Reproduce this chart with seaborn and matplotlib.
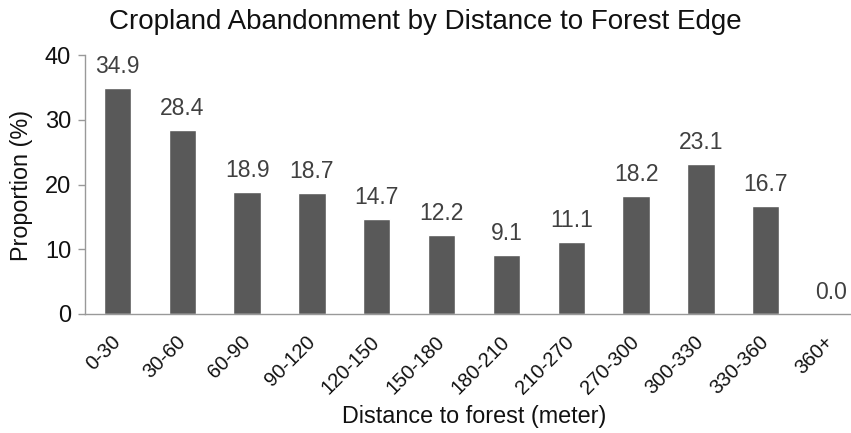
import matplotlib
matplotlib.use("Agg")
import matplotlib.pyplot as plt
import seaborn as sns
import pandas as pd

categories = ["0-30", "30-60", "60-90", "90-120", "120-150", "150-180",
              "180-210", "210-270", "270-300", "300-330", "330-360", "360+"]
values = [34.9, 28.4, 18.9, 18.7, 14.7, 12.2, 9.1, 11.1, 18.2, 23.1, 16.7, 0.0]

sns.set_theme(style="white")
plt.rcParams["font.family"] = ["Liberation Sans", "DejaVu Sans"]

df = pd.DataFrame({"dist": categories, "prop": values})

fig = plt.figure(figsize=(8.51, 4.33), dpi=100)
ax = fig.add_axes([85/851, 1 - 314/433, 778/851, (314 - 55)/433])

sns.barplot(data=df, x="dist", y="prop", color="#595959", width=0.42,
            saturation=1, ax=ax)

for i, v in enumerate(values):
    ax.annotate(f"{v:.1f}", xy=(i, v), xytext=(0, 15.5), textcoords="offset points",
                ha="center", va="center", fontsize=16.5, color="#404040")

ax.set_ylim(0, 40)
ax.set_yticks([0, 10, 20, 30, 40])
ax.set_xlim(-0.5, 11.5)
ax.tick_params(axis="y", labelsize=17, length=5, width=1, color="#999999",
               direction="out", left=True, pad=5, labelcolor="#111111")
ax.tick_params(axis="x", labelsize=14.5, length=0, pad=18, labelcolor="#111111")
plt.setp(ax.get_xticklabels(), rotation=45, ha="right", va="center",
         rotation_mode="anchor")

for s in ["top", "right"]:
    ax.spines[s].set_visible(False)
for s in ["left", "bottom"]:
    ax.spines[s].set_color("#999999")
    ax.spines[s].set_linewidth(1)

ax.set_xlabel("")
ax.set_ylabel("")
fig.text(474/851, 1 - 417/433, "Distance to forest (meter)", ha="center",
         va="center", fontsize=16.8, color="#111111")
fig.text(22/851, 1 - 185/433, "Proportion (%)", ha="center", va="center",
         rotation=90, fontsize=16.8, color="#111111")
fig.text(425/851, 1 - 22/433, "Cropland Abandonment by Distance to Forest Edge",
         ha="center", va="center", fontsize=20, color="#111111")

fig.savefig("out.png", dpi=100)
